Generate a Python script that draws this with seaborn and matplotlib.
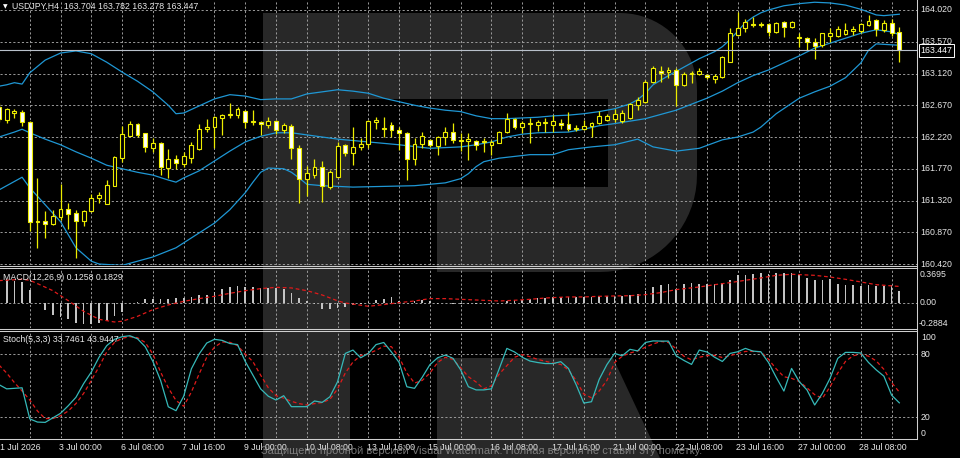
import numpy as np
import matplotlib
matplotlib.use("Agg")
import matplotlib.pyplot as plt
import seaborn as sns
from matplotlib.patches import Polygon

# ---------------- data (USDJPY H4) ----------------
symbol = "USDJPY,H4"
opens = [162.65,162.46,162.56,162.58,162.43,161.03,161.03,160.99,161.09,161.20,
         161.14,161.03,161.17,161.36,161.27,161.53,161.92,162.23,162.41,162.28,
         162.06,162.14,161.78,161.91,161.84,161.92,162.05,162.33,162.36,162.49,
         162.53,162.53,162.59,162.45,162.43,162.39,162.45,162.32,162.38,162.06,
         161.63,161.68,161.80,161.51,161.65,162.11,161.99,162.08,162.12,162.43,
         162.35,162.39,162.32,162.28,161.91,162.12,162.18,162.09,162.22,162.29,
         162.18,162.16,162.16,162.15,162.11,162.14,162.29,162.48,162.36,162.41,
         162.39,162.42,162.39,162.42,162.41,162.35,162.33,162.38,162.42,162.46,
         162.48,162.45,162.49,162.67,162.72,163.00,163.16,163.14,163.17,162.96,
         163.11,163.11,163.10,163.04,163.07,163.28,163.67,163.77,163.82,163.82,
         163.82,163.71,163.85,163.78,163.64,163.62,163.57,163.52,163.65,163.65,
         163.68,163.72,163.72,163.81,163.88,163.74,163.84,163.704]
highs = [162.70,162.63,162.62,162.60,162.44,161.64,161.17,161.19,161.55,161.29,
         161.19,161.19,161.41,161.44,161.61,161.95,162.38,162.45,162.42,162.28,
         162.21,162.15,162.05,161.97,162.01,162.15,162.41,162.48,162.52,162.55,
         162.70,162.65,162.60,162.60,162.45,162.50,162.46,162.42,162.41,162.11,
         161.81,161.91,161.88,161.75,162.15,162.12,162.36,162.21,162.46,162.50,
         162.50,162.43,162.36,162.29,162.21,162.29,162.19,162.23,162.36,162.42,
         162.28,162.28,162.18,162.21,162.18,162.31,162.56,162.49,162.45,162.49,
         162.46,162.49,162.53,162.48,162.58,162.39,162.46,162.43,162.59,162.55,
         162.62,162.60,162.70,162.79,163.03,163.23,163.23,163.21,163.20,163.14,
         163.16,163.20,163.11,163.11,163.37,163.77,163.99,163.89,163.92,163.85,
         163.84,163.85,163.86,163.86,163.69,163.64,163.62,163.69,163.77,163.79,
         163.84,163.79,163.84,163.95,163.89,163.88,163.89,163.782]
lows = [162.43,162.42,162.49,162.38,160.89,160.65,160.79,160.97,161.04,160.92,
        160.51,160.96,161.16,161.29,161.27,161.53,161.87,162.23,162.22,162.01,
        162.01,161.68,161.64,161.77,161.80,161.85,162.04,162.29,162.06,162.25,
        162.49,162.49,162.35,162.39,162.25,162.35,162.26,162.28,161.91,161.29,
        161.38,161.64,161.30,161.48,161.65,161.95,161.82,162.04,162.06,162.33,
        162.22,162.22,162.04,161.61,161.82,162.06,162.08,161.97,162.11,162.14,
        162.02,161.89,162.04,162.01,161.97,162.14,162.28,162.33,162.28,162.14,
        162.31,162.29,162.29,162.33,162.31,162.31,162.32,162.22,162.41,162.45,
        162.43,162.42,162.48,162.60,162.70,162.99,163.00,163.06,162.66,162.94,
        162.99,163.10,163.04,162.99,163.06,163.28,163.65,163.71,163.78,163.78,
        163.65,163.69,163.64,163.77,163.50,163.45,163.33,163.50,163.57,163.64,
        163.67,163.67,163.69,163.79,163.65,163.71,163.65,163.278]
closes = [162.48,162.62,162.59,162.43,161.02,161.02,160.99,161.10,161.20,161.13,
          161.03,161.17,161.36,161.40,161.54,161.94,162.26,162.41,162.25,162.08,
          162.14,161.80,161.91,161.85,161.95,162.11,162.33,162.36,162.50,162.53,
          162.55,162.62,162.43,162.43,162.41,162.45,162.32,162.39,162.06,161.63,
          161.71,161.80,161.53,161.72,162.09,161.99,162.08,162.12,162.45,162.46,
          162.33,162.32,162.28,161.91,162.12,162.23,162.11,162.22,162.29,162.18,
          162.16,162.19,162.11,162.16,162.15,162.29,162.48,162.36,162.42,162.42,
          162.43,162.43,162.45,162.39,162.33,162.33,162.38,162.42,162.52,162.52,
          162.55,162.56,162.69,162.75,163.00,163.20,163.13,163.17,162.96,163.11,
          163.13,163.16,163.07,163.09,163.35,163.69,163.77,163.85,163.81,163.81,
          163.71,163.84,163.78,163.85,163.62,163.57,163.51,163.69,163.69,163.75,
          163.74,163.75,163.82,163.86,163.75,163.84,163.69,163.447]

# Bollinger bands, read at sample bars
upper_idx = [0,1,2,3,4,6,8,10,12,14,16,18,20,22,23,24,26,28,30,32,34,36,38,40,42,44,46,48,50,52,
             54,56,58,60,62,64,66,68,70,72,74,76,78,80,82,83,84,85,87,89,91,93,94,95,96,97,98,99,
             100,102,104,106,108,110,112,113,114,115,117]
upper_val = [162.94,162.96,162.99,162.97,163.13,163.31,163.41,163.44,163.40,163.28,163.14,163.01,
             162.86,162.67,162.55,162.56,162.66,162.76,162.82,162.80,162.75,162.76,162.76,162.83,
             162.86,162.89,162.87,162.84,162.77,162.72,162.67,162.63,162.60,162.58,162.52,162.48,
             162.48,162.49,162.50,162.52,162.53,162.55,162.58,162.62,162.69,162.75,162.84,162.96,
             163.09,163.21,163.33,163.43,163.50,163.60,163.72,163.84,163.92,163.98,164.02,164.08,
             164.11,164.13,164.12,164.09,164.03,163.99,163.95,163.94,163.96]
middle_idx = [0,2,3,4,6,8,10,12,14,16,18,20,22,23,24,26,28,30,32,34,36,38,40,42,44,48,52,56,60,62,
              64,66,68,70,74,76,78,80,84,88,92,94,96,98,100,102,104,106,108,110,112,114,116,117]
middle_val = [162.22,162.29,162.33,162.28,162.19,162.11,162.01,161.92,161.82,161.77,161.72,161.68,
              161.61,161.58,161.64,161.74,161.88,162.02,162.15,162.23,162.28,162.28,162.25,162.22,
              162.19,162.15,162.11,162.06,162.08,162.11,162.15,162.22,162.26,162.28,162.29,162.33,
              162.38,162.41,162.48,162.60,162.77,162.87,162.99,163.09,163.17,163.27,163.37,163.48,
              163.55,163.62,163.69,163.74,163.71,163.67]
lower_idx = [0,3,4,6,8,10,12,13,16,20,23,26,28,30,32,33,34,35,37,38,39,40,42,46,54,58,60,61,62,63,
             65,69,72,74,77,80,83,85,88,91,94,96,98,99,101,104,106,108,110,112,113,114,117]
lower_val = [161.47,161.65,161.50,161.26,161.02,160.65,160.46,160.42,160.40,160.52,160.65,160.86,
             161.00,161.19,161.43,161.58,161.72,161.78,161.77,161.72,161.64,161.55,161.53,161.51,
             161.53,161.57,161.63,161.70,161.80,161.87,161.92,161.97,161.97,162.04,162.08,162.11,
             162.19,162.08,162.02,162.06,162.18,162.22,162.29,162.36,162.55,162.77,162.86,162.94,
             163.06,163.27,163.45,163.54,163.52]

# MACD(12,26,9): main histogram per bar, signal line at sample bars
macd_main = [0.250,0.253,0.245,0.234,0.139,-0.010,-0.088,-0.144,-0.163,-0.190,
             -0.228,-0.239,-0.239,-0.228,-0.212,-0.156,-0.107,-0.005,0.003,0.037,
             0.045,0.037,0.037,0.052,0.052,0.064,0.082,0.090,0.120,0.158,
             0.177,0.188,0.173,0.177,0.169,0.169,0.169,0.150,0.113,0.052,
             0.014,-0.020,-0.068,-0.068,-0.060,-0.049,-0.030,-0.020,0.004,0.026,
             0.045,0.064,0.014,-0.010,0.014,0.026,0.014,-0.020,-0.010,-0.015,
             -0.020,-0.015,-0.015,-0.010,-0.010,-0.005,0.014,0.026,0.026,0.045,
             0.052,0.052,0.064,0.064,0.064,0.064,0.064,0.064,0.075,0.075,
             0.075,0.075,0.082,0.094,0.128,0.177,0.196,0.207,0.158,0.215,
             0.222,0.215,0.215,0.211,0.226,0.253,0.309,0.317,0.328,0.340,
             0.328,0.340,0.336,0.336,0.317,0.279,0.253,0.253,0.264,0.215,
             0.203,0.196,0.188,0.203,0.188,0.188,0.196,0.1258]
macd_sig_idx = [0,3,4,5,7,9,11,13,15,16,18,20,22,24,26,28,30,32,34,36,38,40,41,42,44,45,48,50,52,54,
                56,58,61,65,67,69,71,74,76,78,80,82,84,86,88,91,93,95,97,99,101,103,106,108,110,112,114,117]
macd_sig_val = [0.249,0.264,0.253,0.215,0.135,0.022,-0.099,-0.190,-0.220,-0.212,-0.156,-0.080,-0.027,
                0.014,0.045,0.071,0.105,0.135,0.158,0.173,0.166,0.135,0.111,0.086,0.020,-0.005,-0.042,
                -0.023,-0.001,0.018,0.045,0.045,0.033,0.018,0.026,0.037,0.052,0.064,0.064,0.071,0.075,
                0.078,0.090,0.113,0.147,0.177,0.203,0.226,0.253,0.279,0.309,0.321,0.309,0.290,0.264,
                0.234,0.203,0.1829]
macd_max, macd_min = 0.3695, -0.2884

# Stochastic(5,3,3): %K and %D per bar
stoch_k = [51,47,47.5,48,18.5,15.5,15.2,19.5,23.8,31,
           39,52,63,77,88,94,96.5,97.4,94.5,87,
           73,55,30,26.3,40,66,80,90.5,94,93,
           90,89,73,60,47,40,36.4,40.5,30.1,30.1,
           30.1,35.5,34.2,39.5,53.8,80.6,83.8,76.5,80.6,89,
           91,82,72,49,47.5,58,70,76.5,79,76,
           65,49,46,46,47,66,85.4,82,77,73.4,
           72,71,71,72.8,66.4,51,33.5,34.8,56,70,
           80.6,78.4,84.5,83,91,92.5,92.3,92.3,78.4,74,
           70.2,83.8,82,77,73,80.6,82.2,85.4,82.8,82.2,
           72,58,44.9,66.4,53.8,46,31.7,42.7,57,75.9,
           81.6,81.6,81,72,65,59,41,33.7461]
stoch_d = [69.6,62,53,45,36.4,26,18.8,18.8,21.5,26,
           33,42.7,55,68,82,91,95,96.5,95.5,91,
           80,63,48,36,30.5,44,61,77,86.5,91.5,
           91.2,88,80,72.8,60,48,40.5,38.2,35.2,33,
           31.7,33,34,37,47,62,72.5,78.5,80.5,83.5,
           87.5,87,77,62,52.5,55,62,72,77,75,
           67,58.5,53.5,47,50,61,69,77,79.5,77.5,
           75,73.2,71.5,70.2,65,55,42,38.5,45,55,
           72,78,81,83,86.5,89.5,92,91,85,78,
           74.5,77,78.5,78.8,76.7,78.5,80.5,82.5,82.5,82.2,
           75,66,58.5,57,54,48,41.5,38,49,62,
           73,78.4,80,78,73.5,65.5,53,43.9447]

price_ticks = [160.42,160.87,161.32,161.77,162.22,162.67,163.12,163.57,164.02]
stoch_levels = [20, 80]
stoch_labels = [100, 80, 20, 0]
time_label_idx = [0,8,16,24,32,40,48,56,64,72,80,88,96,104,112]
time_labels = ["1 Jul 2026","3 Jul 00:00","6 Jul 08:00","7 Jul 16:00","9 Jul 00:00",
               "10 Jul 08:00","13 Jul 16:00","15 Jul 00:00","16 Jul 08:00","17 Jul 16:00",
               "21 Jul 00:00","22 Jul 08:00","23 Jul 16:00","27 Jul 00:00","28 Jul 08:00"]
watermark_note = "Защищено пробной версией Visual Watermark. Полная версия не ставит эту пометку."

# ---------------- styling / layout ----------------
W, H = 960, 458
YEL = "#ecec00"
BLUE = "#1f97d4"
RED = "#e01a1a"
TEAL = "#36b9b9"
GRID = "#9a9a9a"
TXT = "#e8e8e8"
FRAME = "#cfcfcf"
FS = 6.3

fig = plt.figure(figsize=(W / 100, H / 100), dpi=100, facecolor="black")
plt.rcParams["font.family"] = ["Liberation Sans", "DejaVu Sans"]


def rect(x0, y0, x1, y1):
    return [x0 / W, 1 - y1 / H, (x1 - x0) / W, (y1 - y0) / H]


def fp(x, y):
    return (x / W, 1 - y / H)


# background logo watermark (grey "R")
t1 = np.linspace(0, np.pi / 2, 20)
bowl = [(263, 13), (620, 13)]
bowl += [(620 + 77 * np.sin(t), 90 - 77 * np.cos(t)) for t in t1]
bowl += [(697, 175)]
bowl += [(600 + 97 * np.cos(t), 175 + 97 * np.sin(t)) for t in t1]
bowl += [(437, 272), (437, 187), (608, 187), (608, 99), (350, 99), (350, 458), (263, 458)]
leg = [(437, 358), (613, 358), (660, 458), (437, 458)]
for shape in (bowl, leg):
    fig.patches.append(Polygon([fp(x, y) for x, y in shape], closed=True,
                               transform=fig.transFigure, facecolor="#282828",
                               edgecolor="none", zorder=-5))

n = len(opens)
xs = np.arange(n)
X0 = (0 + 1.0) / 7.695
X1 = (917 + 1.0) / 7.695


def style(ax, yt):
    ax.set_facecolor("none")
    for s in ax.spines.values():
        s.set_visible(False)
    ax.set_xlim(X0, X1)
    ax.set_xticks(np.arange(4, n, 4))
    ax.set_yticks(yt)
    ax.tick_params(length=0, labelbottom=False, labelleft=False)
    ax.grid(True, color=GRID, lw=0.7, linestyle=(0, (2.2, 2.2)))
    ax.set_axisbelow(True)


# ---- main price panel
ax1 = fig.add_axes(rect(0, 0, 917, 265))
style(ax1, price_ticks)
ax1.set_ylim(164.02 - 255 / 70.56, 164.02 + 10 / 70.56)

sns.lineplot(x=upper_idx, y=upper_val, ax=ax1, color=BLUE, lw=0.9, estimator=None, zorder=2)
sns.lineplot(x=middle_idx, y=middle_val, ax=ax1, color=BLUE, lw=0.9, estimator=None, zorder=2)
sns.lineplot(x=lower_idx, y=lower_val, ax=ax1, color=BLUE, lw=0.9, estimator=None, zorder=2)

o = np.array(opens); c = np.array(closes)
bull = c >= o
ax1.vlines(xs, lows, highs, color=YEL, lw=0.9, zorder=3)
ax1.bar(xs, np.abs(c - o), bottom=np.minimum(o, c), width=0.5,
        color=np.where(bull, "black", "white"), edgecolor=YEL, linewidth=0.8, zorder=4)

ax1.axhline(closes[-1], color="#b9c1cb", lw=0.8, zorder=5)
ax1.set_xlabel(""); ax1.set_ylabel("")
ytr = ax1.get_yaxis_transform()
for v in price_ticks:
    ax1.text(1 + 3 / 917, v, f"{v:.3f}", transform=ytr, color=TXT, fontsize=FS,
             ha="left", va="center", clip_on=False)
ax1.text(1 + 3.5 / 917, closes[-1], f"{closes[-1]:.3f}", transform=ytr, color="white",
         fontsize=FS, ha="left", va="center", clip_on=False, zorder=10,
         bbox=dict(boxstyle="square,pad=0.18", fc="black", ec="white", lw=0.7))

# ---- MACD panel
ax2 = fig.add_axes(rect(0, 270, 917, 328))
style(ax2, [0])
ax2.set_ylim(macd_min, macd_max)
ax2.bar(xs, macd_main, width=0.22, color="#c4c4c4", zorder=3)
sns.lineplot(x=macd_sig_idx, y=macd_sig_val, ax=ax2, color=RED, lw=0.9, estimator=None,
             linestyle=(0, (3, 2.2)), zorder=4)
ax2.set_xlabel(""); ax2.set_ylabel("")
ytr2 = ax2.get_yaxis_transform()
ax2.text(1 + 3 / 917, macd_max, f"{macd_max:.4f}", transform=ytr2, color=TXT, fontsize=FS,
         ha="left", va="top", clip_on=False)
ax2.text(1 + 3 / 917, 0, "0.00", transform=ytr2, color=TXT, fontsize=FS,
         ha="left", va="center", clip_on=False)
ax2.text(1 + 2 / 917, macd_min, f"{macd_min:.4f}", transform=ytr2, color=TXT, fontsize=FS,
         ha="left", va="bottom", clip_on=False)

# ---- Stochastic panel
ax3 = fig.add_axes(rect(0, 333, 917, 438.4))
style(ax3, stoch_levels)
ax3.set_ylim(0, 100)
sns.lineplot(x=xs, y=stoch_d, ax=ax3, color=RED, lw=0.9, estimator=None,
             linestyle=(0, (3, 2.2)), zorder=3)
sns.lineplot(x=xs, y=stoch_k, ax=ax3, color=TEAL, lw=0.9, estimator=None, zorder=4)
ax3.set_xlabel(""); ax3.set_ylabel("")
ytr3 = ax3.get_yaxis_transform()
for v in stoch_labels:
    va = "top" if v == 100 else ("bottom" if v == 0 else "center")
    ax3.text(1 + 4 / 917, v, str(v), transform=ytr3, color=TXT, fontsize=FS,
             ha="left", va=va, clip_on=False)

xtr = ax3.get_xaxis_transform()
ylab = -(447.7 - 438.4) / (438.4 - 333)
for i, s in zip(time_label_idx, time_labels):
    ax3.text(max(i - 0.2, X0), ylab, s, transform=xtr, color=TXT, fontsize=FS,
             ha="left", va="center", clip_on=False)

# ---- frame lines (MetaTrader window separators)
def hline(y, x0=0, x1=917):
    fig.add_artist(plt.Line2D([x0 / W, x1 / W], [1 - y / H, 1 - y / H],
                              color=FRAME, lw=0.75, transform=fig.transFigure))

for y in (265.8, 268.2, 328.8, 331.2, 438.6):
    hline(y)
fig.add_artist(plt.Line2D([917 / W, 917 / W], [1 - 438.6 / H, 1],
                          color=FRAME, lw=0.75, transform=fig.transFigure))

# ---- header texts
fig.text(*fp(2.5, 6.5), "\u25bc", color="white", fontsize=4.3, family="DejaVu Sans",
         ha="left", va="center")
fig.text(*fp(12, 6.5),
         f"{symbol}  {opens[-1]:.3f} {highs[-1]:.3f} {lows[-1]:.3f} {closes[-1]:.3f}",
         color=TXT, fontsize=FS, ha="left", va="center")
fig.text(*fp(3, 277), f"MACD(12,26,9) {macd_main[-1]:.4f} {macd_sig_val[-1]:.4f}",
         color=TXT, fontsize=FS, ha="left", va="center")
fig.text(*fp(3, 340), f"Stoch(5,3,3) {stoch_k[-1]:.4f} {stoch_d[-1]:.4f}",
         color=TXT, fontsize=FS, ha="left", va="center")

wm = fig.text(*fp(261, 451), watermark_note, color="#8c8c8c", alpha=0.85,
              fontsize=7.6, ha="left", va="center")
fig.canvas.draw()
bb = wm.get_window_extent()
if bb.width > 0:
    wm.set_fontsize(7.6 * 440 / bb.width)

fig.savefig("out.png", dpi=100, facecolor="black")
